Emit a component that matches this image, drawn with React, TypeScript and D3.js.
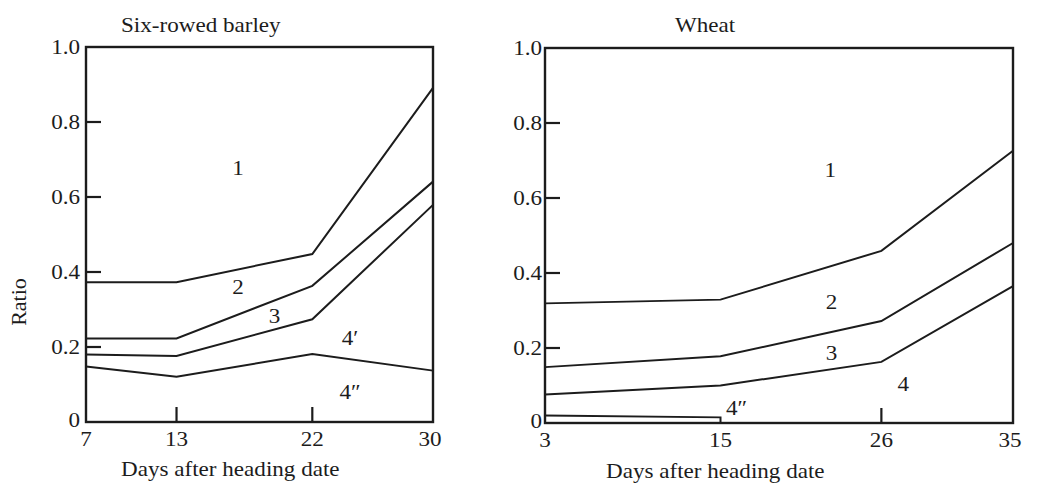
import React from "react";
import * as d3 from "d3";

// ---------- data ----------
const barleyDays = [7, 13, 22, 30];
const barleyLine12 = [0.373, 0.373, 0.448, 0.891];
const barleyLine23 = [0.223, 0.223, 0.363, 0.641];
const barleyLine34 = [0.18, 0.176, 0.274, 0.579];
const barleyLine44 = [0.148, 0.121, 0.181, 0.137];

const wheatDays = [3, 15, 26, 35];
const wheatLine12 = [0.319, 0.329, 0.459, 0.726];
const wheatLine23 = [0.149, 0.178, 0.272, 0.48];
const wheatLine34 = [0.076, 0.1, 0.163, 0.365];
const wheat4ppDays = [3, 15, 15];
const wheat4ppValues = [0.02, 0.015, 0];

const yTickValues = [0.2, 0.4, 0.6, 0.8];
const yLabelValues = [0, 0.2, 0.4, 0.6, 0.8, 1.0];
const yLabelTexts = ["0", "0.2", "0.4", "0.6", "0.8", "1.0"];
const barleyInnerXTicks = [13, 22];
const wheatInnerXTicks = [26];

const barleyRegionLabels = [
  { text: "1", day: 17.07, value: 0.677 },
  { text: "2", day: 17.07, value: 0.36 },
  { text: "3", day: 19.5, value: 0.283 },
  { text: "4\u2032", day: 24.5, value: 0.224 },
  { text: "4\u2033", day: 24.5, value: 0.08 },
];
const wheatRegionLabels = [
  { text: "1", day: 22.5, value: 0.675 },
  { text: "2", day: 22.6, value: 0.323 },
  { text: "3", day: 22.6, value: 0.187 },
  { text: "4", day: 27.5, value: 0.104 },
  { text: "4\u2033", day: 16.1, value: 0.04 },
];

// ---------- style ----------
const INK = "#1c1c1c";
const FONT = "'Liberation Serif', 'Times New Roman', serif";
const FS = 22;
const SX = 1.05;

function T({ x, y, children, anchor = "middle", baseline = "auto", rotate = 0 }: any) {
  return (
    <text
      transform={`translate(${x},${y}) rotate(${rotate}) scale(${rotate ? 1 : SX},1)`}
      textAnchor={anchor}
      dominantBaseline={baseline}
      fontFamily={FONT}
      fontSize={FS}
      fill={INK}
    >
      {children}
    </text>
  );
}

function Panel({ x0, x1, y0, y1, days, lines, extra, innerXTicks, regionLabels, labelGap, xLabelBaseline, title, titleX, xTitleX, xTitleBaseline }: any) {
  const x = d3.scaleLinear().domain([days[0], days[days.length - 1]]).range([x0, x1]);
  const y = d3.scaleLinear().domain([0, 1]).range([y1, y0]);
  const line = d3
    .line<[number, number]>()
    .x((d) => x(d[0]))
    .y((d) => y(d[1]));
  return (
    <g>
      <rect x={x0} y={y0} width={x1 - x0} height={y1 - y0} fill="none" stroke={INK} strokeWidth={2.4} />
      {yTickValues.map((v) => (
        <line key={"yt" + v} x1={x0} x2={x0 + 15} y1={y(v)} y2={y(v)} stroke={INK} strokeWidth={2.2} />
      ))}
      {innerXTicks.map((d: number) => (
        <line key={"xt" + d} x1={x(d)} x2={x(d)} y1={y1} y2={y1 - 15} stroke={INK} strokeWidth={2.2} />
      ))}
      {lines.map((vals: number[], i: number) => (
        <path
          key={"l" + i}
          d={line(days.map((d: number, j: number) => [d, vals[j]]) as any) || ""}
          fill="none"
          stroke={INK}
          strokeWidth={2}
        />
      ))}
      {extra &&
        extra.map((e: any, i: number) => (
          <path
            key={"e" + i}
            d={line(e.days.map((d: number, j: number) => [d, e.values[j]]) as any) || ""}
            fill="none"
            stroke={INK}
            strokeWidth={2}
          />
        ))}
      {yLabelValues.map((v, i) =>
        v === 0 ? (
          <T key={"yl" + i} x={x0 - labelGap} y={y1 + 5} anchor="end">
            {yLabelTexts[i]}
          </T>
        ) : (
          <T key={"yl" + i} x={x0 - labelGap} y={y(v)} anchor="end" baseline="central">
            {yLabelTexts[i]}
          </T>
        )
      )}
      {days.map((d: number) => (
        <T key={"xl" + d} x={x(d) - (d === days[days.length - 1] ? 3 : 0)} y={xLabelBaseline}>
          {String(d)}
        </T>
      ))}
      {regionLabels.map((r: any, i: number) => (
        <T key={"r" + i} x={x(r.day)} y={y(r.value)} baseline="central">
          {r.text}
        </T>
      ))}
      <T x={titleX} y={32} anchor="start">
        {title}
      </T>
      <T x={xTitleX} y={xTitleBaseline} anchor="start">
        Days after heading date
      </T>
    </g>
  );
}

export default function App() {
  return (
    <svg
      width={1043}
      height={483}
      style={{ position: "absolute", left: 0, top: 0, background: "#fff" }}
    >
      <rect x={0} y={0} width={1043} height={483} fill="#fff" />
      <Panel
        x0={86}
        x1={433}
        y0={47}
        y1={422}
        days={barleyDays}
        lines={[barleyLine12, barleyLine23, barleyLine34, barleyLine44]}
        innerXTicks={barleyInnerXTicks}
        regionLabels={barleyRegionLabels}
        labelGap={6}
        xLabelBaseline={446}
        title="Six-rowed barley"
        titleX={121}
        xTitleX={121}
        xTitleBaseline={476}
      />
      <Panel
        x0={545}
        x1={1013}
        y0={48}
        y1={423}
        days={wheatDays}
        lines={[wheatLine12, wheatLine23, wheatLine34]}
        extra={[{ days: wheat4ppDays, values: wheat4ppValues }]}
        innerXTicks={wheatInnerXTicks}
        regionLabels={wheatRegionLabels}
        labelGap={3}
        xLabelBaseline={447}
        title="Wheat"
        titleX={675}
        xTitleX={606}
        xTitleBaseline={478}
      />
      <T x={18} y={302} anchor="middle" baseline="central" rotate={-90}>
        Ratio
      </T>
    </svg>
  );
}
